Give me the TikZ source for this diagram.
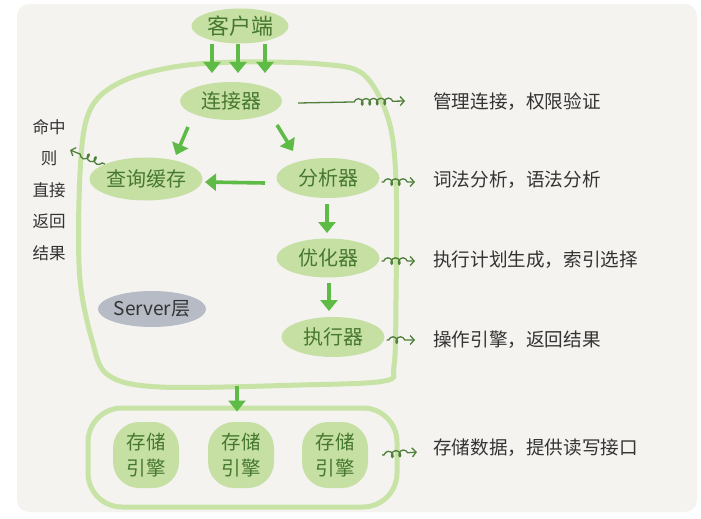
\documentclass[tikz,border=0pt]{standalone}
\usepackage{fontspec}
\setmainfont{Noto Sans CJK SC}
\usetikzlibrary{shapes.geometric,arrows.meta,decorations.pathmorphing,calc}
\definecolor{canvasbg}{HTML}{F4F3F0}
\definecolor{blob}{HTML}{C6E0A4}
\definecolor{frame}{HTML}{C8E3A6}
\definecolor{garrow}{HTML}{5DBB46}
\definecolor{gtext}{HTML}{46772F}
\definecolor{ltext}{HTML}{333333}
\definecolor{squig}{HTML}{4F7F3A}
\definecolor{greypill}{HTML}{B6BBC5}
\begin{document}
\begin{tikzpicture}[x=1pt,y=-1pt,
  blobnode/.style={ellipse, fill=blob, text=gtext, inner sep=0pt,
    font=\fontsize{20}{20}\selectfont},
  enginenode/.style={rectangle, rounded corners=26pt, fill=blob, text=gtext,
    inner sep=0pt, minimum width=66pt, minimum height=66pt, align=center,
    font=\fontsize{19.5}{26}\selectfont},
  labelnode/.style={anchor=west, inner sep=0pt, text=ltext,
    font=\fontsize{18.6}{18.6}\selectfont},
  bigarrow/.style={draw=garrow, line width=3.6pt,
    -{Triangle[length=11pt,width=17pt]}},
  squigarrow/.style={draw=squig, line width=1.3pt,
    -{Straight Barb[length=4pt,width=9pt]}, decorate,
    decoration={coil, aspect=0.75, segment length=7.5pt, amplitude=3.2pt,
      pre length=#1, post length=7pt}},
  framestyle/.style={draw=frame, line width=5pt}]
\useasboundingbox (0,0) rectangle (701,519);
\fill[white] (0,0) rectangle (701,519);
\fill[canvasbg, rounded corners=12pt] (17,4) rectangle (697,512);

% server layer frame
\draw[framestyle] plot[smooth cycle, tension=0.55] coordinates {
  (240,62) (320,64) (363,74) (388,118) (396,180) (396,300) (394,366)
  (384,381) (300,385) (160,387) (108,375) (92,340) (80,280) (79,200)
  (84,130) (98,98) (130,78) (180,66)};

% storage frame
\node[framestyle, rectangle, rounded corners=34pt, minimum width=309pt,
  minimum height=99pt, inner sep=0pt] (store) at (242.5,457.5) {};

% nodes
\node[blobnode, minimum width=97pt, minimum height=35pt,
  font=\fontsize{22}{22}\selectfont] (client) at (240,26) {客户端};
\node[blobnode, minimum width=102pt, minimum height=38pt] (conn) at (231,101) {连接器};
\node[blobnode, minimum width=102pt, minimum height=43pt] (cache) at (146,179) {查询缓存};
\node[blobnode, minimum width=103pt, minimum height=40pt] (ana) at (328,178) {分析器};
\node[blobnode, minimum width=103pt, minimum height=39pt] (opt) at (328,258) {优化器};
\node[blobnode, minimum width=103pt, minimum height=40pt] (exe) at (333,337) {执行器};
\node[ellipse, fill=greypill, text=ltext, inner sep=0pt, minimum width=101pt,
  minimum height=36pt, font=\fontsize{19}{19}\selectfont] (srv) at (152,309) {Server层};

\node[enginenode] (e1) at (146,455) {存储\\引擎};
\node[enginenode] (e2) at (241,455) {存储\\引擎};
\node[enginenode] (e3) at (335,455) {存储\\引擎};

% labels
\node[labelnode] (l1) at (433,102) {管理连接，权限验证};
\node[labelnode] (l2) at (433,180) {词法分析，语法分析};
\node[labelnode] (l3) at (433,260) {执行计划生成，索引选择};
\node[labelnode] (l4) at (433,340) {操作引擎，返回结果};
\node[labelnode] (l5) at (433,448) {存储数据，提供读写接口};
\node[text=ltext, align=center, inner sep=0pt,
  font=\fontsize{16.5}{31.5}\selectfont] (hit) at (49,190) {命中\\则\\直接\\返回\\结果};

% coordinates
\coordinate (t1) at (212,73);
\coordinate (t2) at (238,73);
\coordinate (t3) at (265,73);
\coordinate (srvbottom) at (237,386);
\coordinate (hittip) at (70,150);

% client arrows
\draw[bigarrow] ($(client.south)+(-28,0)$) -- (t1);
\draw[bigarrow] ($(client.south)+(-2,0)$) -- (t2);
\draw[bigarrow] ($(client.south)+(25,0)$) -- (t3);

% internal arrows
\draw[bigarrow] ($(conn.center)+(-43,26)$) -- ($(cache.center)+(30,-24)$);
\draw[bigarrow] ($(conn.center)+(46,24)$) -- ($(ana.center)+(-35,-27)$);
\draw[bigarrow] ($(ana.center)+(-63,5)$) -- ($(cache.center)+(59,3)$);
\draw[bigarrow] ($(ana.center)+(-1,26)$) -- ($(opt.center)+(-1,-25)$);
\draw[bigarrow] ($(opt.center)+(1,25)$) -- ($(exe.center)+(-4,-26)$);
\draw[bigarrow] (srvbottom) -- ($(store.north)+(-5.5,6)$);

% squiggle arrows
\draw[squigarrow=56pt] ($(conn.east)+(16,2)$) -- ($(l1.west)+(-28,-1)$);
\draw[squigarrow=2pt] ($(ana.east)+(2,4)$) -- ($(l2.west)+(-18,2)$);
\draw[squigarrow=2pt] ($(opt.east)+(2,3)$) -- ($(l3.west)+(-18,1)$);
\draw[squigarrow=2pt] ($(exe.east)+(2,3)$) -- ($(l4.west)+(-18,0)$);
\draw[squigarrow=2pt] ($(e3.east)+(14,0)$) -- ($(l5.west)+(-16,4)$);
\draw[squigarrow=3pt] (cache.160) -- (hittip);
\end{tikzpicture}
\end{document}
